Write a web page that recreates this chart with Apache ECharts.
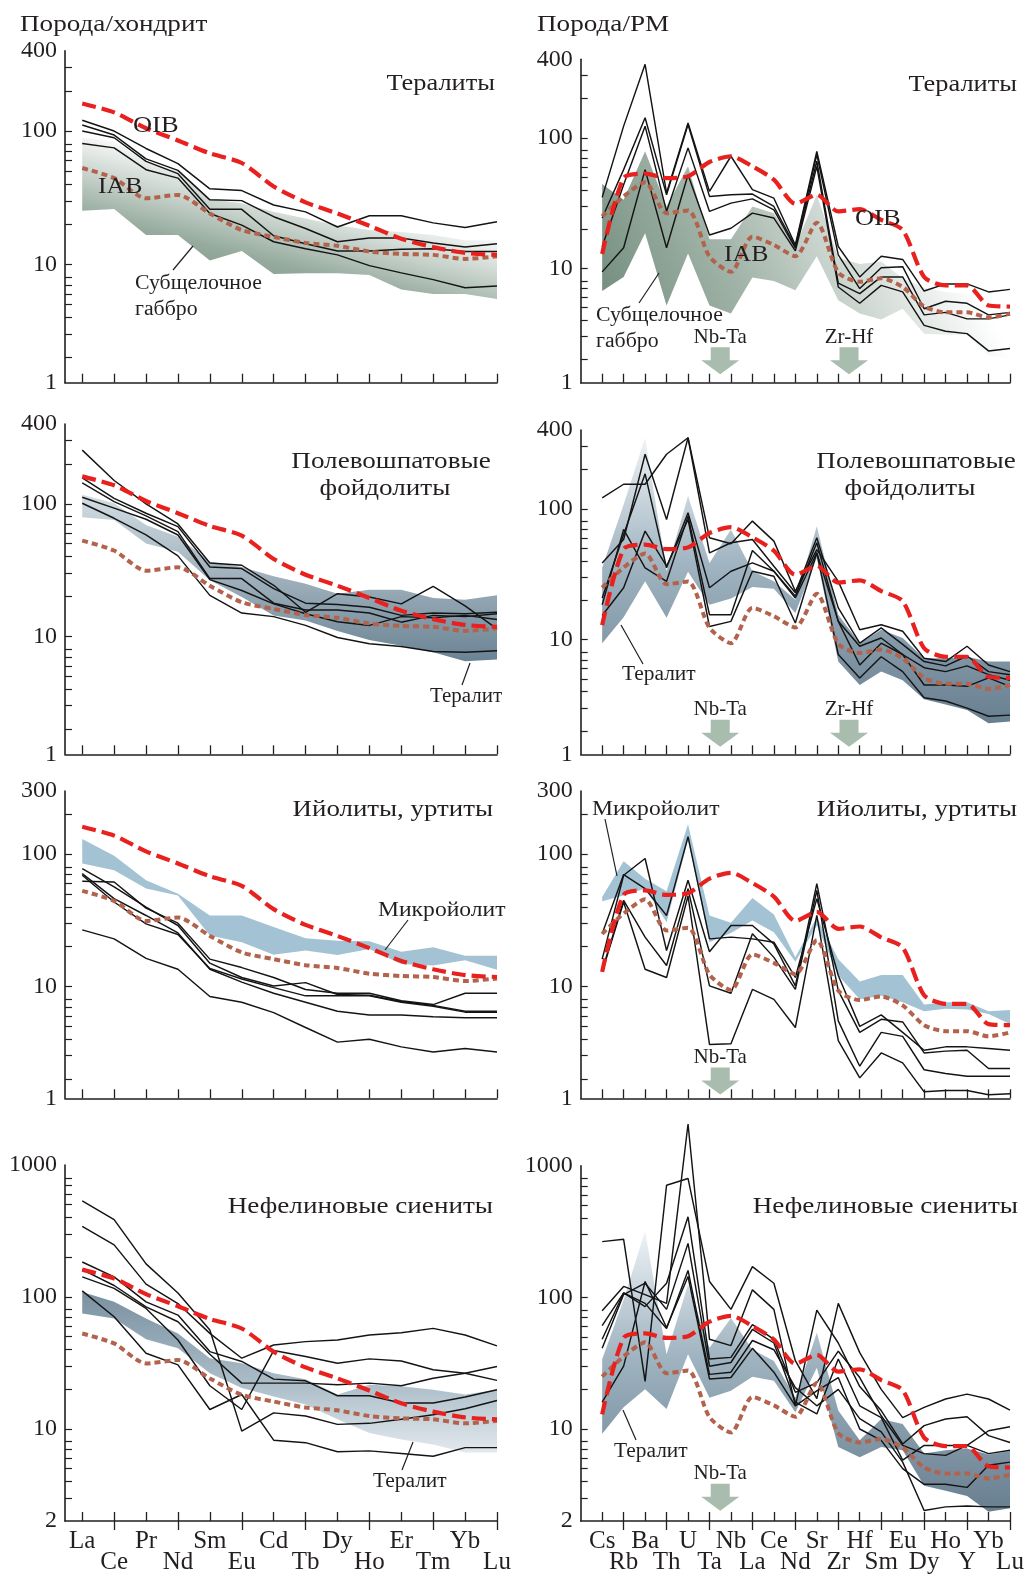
<!DOCTYPE html>
<html>
<head>
<meta charset="utf-8">
<script src="https://cdn.jsdelivr.net/npm/echarts@6/dist/echarts.min.js"></script>
<style>
  html, body { margin: 0; padding: 0; background: #ffffff; }
  #chart { width: 1028px; height: 1575px; }
</style>
</head>
<body>
<div id="chart"></div>
<script>
// ---- element order on the two diagram types ----
const reeElements = ['La', 'Ce', 'Pr', 'Nd', 'Sm', 'Eu', 'Cd', 'Tb', 'Dy', 'Ho', 'Er', 'Tm', 'Yb', 'Lu'];
const traceElements = ['Cs', 'Rb', 'Ba', 'Th', 'U', 'Ta', 'Nb', 'La', 'Ce', 'Nd', 'Sr', 'Zr', 'Hf', 'Sm', 'Eu', 'Dy', 'Ho', 'Y', 'Yb', 'Lu'];

// ---- reference basalts (chondrite- and PM-normalised) ----
const oibRee = [161, 138, 105, 85, 68, 57.6, 38.4, 29.2, 24.1, 19.5, 15.6, 13.5, 12.2, 11.8];
const iabRee = [52.8, 44.4, 31.3, 33.2, 24.1, 18.1, 16.1, 14.5, 13.8, 12.5, 12.0, 11.8, 11.0, 11.5];
const oibTrace = [12.9, 49.2, 53.2, 49.2, 50.7, 65.3, 72.3, 60.5, 47.8, 31.3, 36.6, 27.3, 28.4, 23.5, 19.7, 8.6, 7.4, 7.4, 5.2, 5.1];
const iabTrace = [25, 35.6, 45.6, 26.5, 27.8, 12.3, 9.4, 17.5, 15.1, 12.4, 22.4, 9.3, 7.9, 8.4, 7.2, 5.1, 4.6, 4.6, 4.2, 4.5];

// ---- Тералиты: field of subalkaline gabbro + samples ----
const gabbroReeLow = [25.3, 26.1, 16.6, 16.6, 10.7, 12.6, 8.5, 8.6, 8.6, 8.35, 6.5, 6.0, 6.0, 5.5];
const gabbroReeHigh = [89, 84, 59, 50, 31, 28.7, 24.8, 22.1, 19.7, 18.1, 17.5, 16.6, 15.2, 15.2];
const teraliteRee = [
  [120.4, 100, 74, 57, 36.9, 35.8, 27.9, 24.8, 19.1, 23.2, 23.2, 20.5, 18.9, 20.9],
  [111, 93.3, 61.8, 50.7, 30.5, 30.1, 22.8, 18.6, 14.8, 15.8, 15.8, 14.5, 13.5, 14.3],
  [100, 89.1, 59.3, 47.9, 25.9, 25.9, 16.4, 14.3, 12.6, 12.6, 13.0, 13.1, 12.5, 12.5],
  [80.7, 74.8, 51.3, 44.4, 24.1, 19.7, 14.8, 13.1, 11.8, 9.8, 8.65, 7.7, 6.7, 6.9]
];
const gabbroTraceLow = [6.7, 8.6, 18.6, 5.2, 13.0, 5.2, 4.5, 8.5, 8.0, 6.8, 12.4, 5.7, 4.5, 4.05, 4.9, 3.16, 3.1, 3.07, 2.15, 2.03];
const gabbroTraceHigh = [44.3, 33.6, 78.9, 29.8, 60.5, 16.7, 16.7, 29.8, 26.5, 14.7, 36.6, 12, 10.8, 11.3, 8.4, 7.1, 6.6, 6.4, 5.7, 5.2];
const teraliteTrace = [
  [35.0, 123, 366, 37.8, 130, 38.9, 72.3, 40.1, 34.5, 15.1, 78.9, 14.7, 8.6, 12.4, 11.7, 6.7, 7.6, 7.6, 6.6, 6.9],
  [24.3, 57.1, 142.6, 36.6, 126.6, 35.6, 36.6, 37.1, 29.8, 14.7, 74.5, 12.7, 7.0, 10.1, 10.3, 4.9, 5.6, 5.4, 4.4, 4.6],
  [14.7, 43.7, 123, 27.3, 83.8, 27.3, 31.6, 34.1, 28.1, 14.3, 66.2, 7.7, 6.4, 8.6, 8.6, 4.4, 4.6, 4.1, 4.1, 4.4],
  [9.4, 14.4, 57.1, 14.4, 52.2, 18.0, 20.3, 26.5, 24.3, 13.6, 60.5, 7.2, 5.4, 7.4, 6.6, 3.66, 3.3, 3.16, 2.33, 2.43]
];

// ---- Полевошпатовые фойдолиты: field of teralites + samples ----
const foidTeraliteReeLow = [79.2, 75.6, 50.3, 43.5, 26.5, 19.8, 14.4, 13.2, 11.0, 9.4, 8.5, 7.6, 6.5, 6.7];
const foidTeraliteReeHigh = [117, 101, 69.3, 56.5, 36.5, 33.4, 28.4, 25.0, 21.0, 22.5, 22.5, 19.5, 18.9, 20.4];
const foidoliteRee = [
  [254, 150, 100, 70.5, 35.8, 34.4, 24.3, 15.2, 21.0, 19.8, 17.6, 23.8, 17.0, 11.4],
  [157, 110, 84.9, 67.3, 33.4, 32.5, 22.9, 17.8, 17.4, 16.6, 14.4, 15.0, 14.8, 15.2],
  [143.6, 104, 81.1, 61.6, 27.3, 27.3, 17.8, 15.8, 15.8, 15.0, 12.8, 14.4, 14.1, 14.8],
  [112, 92.7, 76.5, 58.2, 26.8, 22.2, 17.6, 14.8, 12.9, 12.1, 14.1, 13.8, 14.4, 13.4],
  [101, 77.8, 58.2, 40.5, 20.4, 15.0, 14.1, 12.1, 9.8, 8.8, 8.4, 7.7, 7.6, 7.8]
];
const foidTeraliteTraceLow = [9.4, 14.8, 27.9, 14.7, 33, 18.5, 20.6, 25.3, 24.5, 16.0, 42, 6.8, 4.5, 5.7, 4.9, 3.5, 3.2, 2.9, 2.3, 2.37];
const foidTeraliteTraceHigh = [35.4, 108, 349, 33.3, 125, 38.6, 69.5, 33.3, 27.9, 20.2, 73.7, 15.5, 9.4, 11.9, 10.3, 7.2, 7.2, 7.4, 6.8, 6.8];
const foidoliteTrace = [
  [121, 154, 154, 261, 349, 60.0, 54.0, 80.5, 56.6, 23.4, 48.8, 27.9, 11.9, 13.0, 11.6, 7.2, 6.8, 8.9, 6.4, 5.7],
  [38.6, 58.3, 261, 82.9, 349, 46.1, 55.0, 58.3, 36.4, 22.8, 60.0, 17.5, 9.4, 12.3, 9.2, 6.8, 6.3, 7.5, 5.7, 5.4],
  [20.8, 63.6, 185, 35.4, 93.2, 24.9, 33.3, 38.6, 33.3, 21.5, 55.0, 13.8, 8.9, 10.3, 7.7, 6.1, 5.7, 6.3, 5.4, 4.9],
  [18.5, 69.5, 35.4, 27.9, 87.9, 15.5, 15.5, 48.0, 33.3, 20.8, 46.1, 13.8, 6.4, 9.4, 7.7, 4.5, 4.5, 4.4, 5.1, 4.4],
  [15.3, 24.9, 67.5, 36.4, 82.9, 12.6, 13.8, 33.3, 30.5, 13.4, 46.1, 7.7, 5.1, 7.4, 5.7, 3.6, 3.4, 3.0, 2.6, 2.65]
];

// ---- Ийолиты, уртиты: field of microijolite + samples ----
const microReeLow = [84.9, 75.6, 54.9, 48.8, 24.3, 21.6, 17.4, 18.7, 17.3, 19.2, 14.8, 14.4, 15.8, 13.4];
const microReeHigh = [130, 97.1, 63.5, 50.3, 34.4, 34.4, 28.1, 23.2, 22.2, 22.0, 18.3, 19.8, 17.1, 17.1];
const ijoliteRee = [
  [62.4, 61.6, 39.1, 30.1, 16.1, 13.9, 11.7, 9.5, 8.9, 8.9, 7.8, 7.3, 8.9, 8.9],
  [77.8, 56.5, 39.8, 28.9, 15.0, 11.7, 10.1, 10.7, 8.7, 8.6, 7.7, 7.2, 6.5, 6.5],
  [71.3, 46.1, 34.4, 25.4, 13.5, 10.8, 8.9, 7.6, 6.5, 6.1, 6.1, 5.9, 5.8, 5.8],
  [69.3, 43.5, 29.7, 24.7, 13.7, 11.4, 9.8, 8.5, 8.5, 8.5, 7.6, 7.1, 6.4, 6.4],
  [26.8, 22.9, 16.3, 13.5, 8.4, 7.6, 6.35, 4.9, 3.8, 4.0, 3.5, 3.2, 3.4, 3.2]
];
const microTraceLow = [44.0, 48.8, 54.9, 30.6, 128, 21.6, 25.4, 31.5, 25.7, 15.4, 28.9, 12.1, 8.0, 8.5, 7.6, 6.5, 6.8, 6.7, 6.2, 5.2];
const microTraceHigh = [47.4, 88.5, 65.3, 52.4, 168, 34.4, 30.3, 46.6, 35.0, 16.6, 33.4, 16.1, 10.9, 12.2, 12.2, 7.3, 7.6, 7.6, 6.5, 6.65];
const ijoliteTrace = [
  [25.0, 70.1, 54.9, 34.4, 135.5, 22.9, 23.6, 22.9, 21.6, 11.7, 46.1, 12.1, 5.0, 6.1, 4.5, 3.3, 3.5, 3.5, 3.4, 3.3],
  [16.1, 69.3, 92.7, 18.7, 63.5, 18.3, 28.9, 28.9, 21.0, 10.1, 59.8, 9.3, 4.5, 5.65, 5.4, 3.15, 3.25, 3.3, 2.4, 2.4],
  [13.2, 44.7, 23.6, 14.4, 54.9, 10.1, 8.9, 25.0, 16.6, 9.5, 53.3, 5.5, 2.5, 4.5, 4.2, 2.35, 2.2, 2.1, 2.1, 2.1],
  [12.9, 43.5, 13.5, 11.7, 48.3, 3.65, 3.7, 9.5, 8.0, 4.9, 34.4, 3.9, 2.04, 3.15, 2.65, 1.6, 1.64, 1.64, 1.52, 1.55]
];

// ---- Нефелиновые сиениты: field of teralites + samples ----
const syenTeraliteReeLow = [74.9, 68.7, 47.7, 40.8, 26.4, 20.4, 17.6, 15.3, 11.8, 9.3, 8.3, 7.6, 6.6, 6.6];
const syenTeraliteReeHigh = [109, 91.7, 68.7, 52.9, 34.3, 31.4, 26.4, 23.8, 18.2, 21.6, 21.0, 19.8, 18.2, 19.8];
const syeniteRee = [
  [535, 385, 178, 107, 56.1, 9.6, 13.2, 12.5, 10.8, 11.0, 11.8, 12.8, 14.2, 16.4],
  [343, 248, 125, 89.1, 52.9, 34.3, 43.2, 45.8, 47.1, 51.4, 53.5, 57.7, 51.4, 42.5],
  [184, 142, 91.7, 72.8, 38.5, 32.4, 23.8, 23.1, 17.8, 17.8, 15.7, 15.7, 17.4, 19.8],
  [161, 122, 84.1, 64.8, 36.7, 22.2, 22.2, 22.2, 21.6, 22.2, 21.2, 24.2, 26.4, 29.7],
  [142, 116, 81.7, 47.1, 21.2, 14.0, 39.2, 35.3, 31.4, 33.9, 32.7, 28.0, 26.4, 23.3],
  [111, 70.7, 37.4, 30.5, 14.0, 18.2, 8.2, 7.85, 6.7, 6.8, 6.5, 6.2, 7.2, 7.2]
];
const syenTeraliteTraceLow = [9.2, 14.6, 20, 14.2, 37, 17.3, 19.5, 24.9, 23.2, 13.4, 29.2, 7.3, 6.1, 7.3, 6.9, 3.7, 3.4, 3.1, 2.35, 2.5];
const syenTeraliteTraceHigh = [33.8, 96, 319, 36.9, 125, 41.4, 69.8, 40.2, 32.8, 17.3, 53.8, 13.8, 8.2, 11.9, 10.9, 6.5, 6.9, 7.1, 6.4, 6.8];
const syeniteTrace = [
  [265, 276, 23, 710, 800, 132, 81, 171, 128, 33, 17, 90, 38, 20, 12.2, 14.6, 16.9, 18.4, 16.9, 13.9],
  [79, 121, 105, 90, 2075, 48, 43, 114, 81, 15, 80, 45, 21, 13.8, 7.7, 10.6, 11.9, 12.4, 8.9, 7.9],
  [61, 108, 85, 128, 409, 34, 35, 62, 48, 19, 22.5, 39, 24.6, 12.6, 7.5, 6.5, 6.3, 7.5, 6.5, 6.9],
  [41, 105, 128, 81, 257, 30, 32, 57, 45, 16, 13, 34, 15, 12.2, 5.8, 7.5, 7.5, 7.5, 9.7, 10.4],
  [16, 30, 132, 59, 144, 24, 24.6, 41, 27, 15, 19.5, 24.6, 10, 8.2, 5.0, 3.8, 3.8, 3.6, 5.3, 5.6],
  [48, 108, 90, 58, 160, 26, 27, 47, 40, 20.6, 15, 20, 12, 9.5, 5.6, 2.4, 2.56, 2.6, 2.56, 2.56]
];

// ---- y tick labels of each row (the lowest one sits on the axis end) ----
const yTickLabels400 = ['1', '10', '100', '400'];
const yTickLabels300 = ['1', '10', '100', '300'];
const yTickLabels1000 = ['2', '10', '100', '1000'];

// ---- anomaly arrows ----
const anomalyNames = ['Nb-Ta', 'Zr-Hf'];

// ================= drawing =================
const INK = '#231f20';
const SERIF = '"Liberation Serif", "Times New Roman", "DejaVu Serif", serif';
const grad = (x, y, x2, y2, stops) => new echarts.graphic.LinearGradient(x, y, x2, y2,
  stops.map(s => ({ offset: s[0], color: s[1] })));

const fills = {
  greenRee: () => grad(0, 1, 0.1, 0, [[0, '#5f7c6c'], [0.5, '#96ab9e'], [1, '#ffffff']]),
  greenTrace: () => grad(0, 1, 1, 0, [[0, '#6a8676'], [0.35, '#a3b5aa'], [0.8, '#ffffff']]),
  slateUp: () => grad(0, 0, 0, 1, [[0, '#d3dde3'], [1, '#6a8394']]),
  slateDown: () => grad(0, 0, 0, 1, [[0, '#7a91a1'], [0.55, '#a9bbc6'], [1, '#e2e9ee']]),
  slateRise: () => grad(0, 0, 0, 1, [[0, '#eef3f6'], [0.45, '#9fb3c0'], [1, '#687f90']]),
  ice: () => '#a3c3d4'
};

function logTickValues(min, max) {
  const out = [];
  for (let e = -1; e <= 4; e++) {
    for (const m of [1, 2, 3, 4, 5, 6, 7, 8]) {
      const v = +(m * Math.pow(10, e)).toPrecision(6);
      if (v > min * 1.01 && v < max * 0.99) out.push(v);
    }
  }
  return out;
}

const grids = [], xAxes = [], yAxes = [], series = [];

function nameLabel(elements, values, margin) {
  return {
    show: true, customValues: values, margin: margin, color: INK, fontFamily: SERIF, fontSize: 25, lineHeight: 21,
    hideOverlap: false, showMinLabel: true, showMaxLabel: true,
    formatter: v => elements[Math.round(v)]
  };
}

function addPanel(p) {
  const gi = grids.length;
  const elements = p.elements;
  const n = elements.length;
  const idx = elements.map((_, i) => i);
  const even = idx.filter(i => i % 2 === 0), odd = idx.filter(i => i % 2 === 1);
  grids.push({ left: p.box[0], top: p.box[1], width: p.box[2], height: p.box[3] });

  const xi = xAxes.length;
  xAxes.push({
    type: 'value', gridIndex: gi, min: p.xMin, max: n - 1,
    axisLine: { show: true, onZero: false, lineStyle: { color: INK, width: 1.6 } },
    axisTick: { show: true, inside: true, length: 9, customValues: idx, lineStyle: { color: INK, width: 1.3 } },
    axisLabel: p.names ? nameLabel(elements, even, 10) : { show: false },
    splitLine: { show: false }
  });
  if (p.names) {
    // lower row of element names, with ticks crossing the axis below them
    xAxes.push({
      type: 'value', gridIndex: gi, min: p.xMin, max: n - 1, position: 'bottom',
      axisLine: { show: false },
      axisTick: { show: true, inside: false, length: 9, customValues: odd, lineStyle: { color: INK, width: 1.3 } },
      axisLabel: nameLabel(elements, odd, 31),
      splitLine: { show: false }
    });
  }
  const yVals = [p.yMin, 10, 100, p.yMax];
  yAxes.push({
    type: 'log', logBase: 10, gridIndex: gi, min: p.yMin, max: p.yMax,
    axisLine: { show: true, onZero: false, lineStyle: { color: INK, width: 1.6 } },
    axisTick: { show: true, inside: true, length: 7, customValues: logTickValues(p.yMin, p.yMax), lineStyle: { color: INK, width: 1.2 } },
    axisLabel: {
      show: true, customValues: yVals, margin: 8, color: INK, fontFamily: SERIF, fontSize: 24,
      hideOverlap: false, showMinLabel: true, showMaxLabel: true,
      formatter: v => {
        let best = 0, bd = Infinity;
        yVals.forEach((t, k) => { const d = Math.abs(Math.log(v / t)); if (d < bd) { bd = d; best = k; } });
        return p.yLabels[best];
      }
    },
    splitLine: { show: false }
  });

  const low = p.bandLow, high = p.bandHigh, fill = p.bandFill;
  series.push({
    type: 'custom', xAxisIndex: xi, yAxisIndex: gi, z: 1, silent: true,
    data: [[0, 10]],
    renderItem: (params, api) => {
      const pts = [];
      for (let i = 0; i < high.length; i++) pts.push(api.coord([i, high[i]]));
      for (let i = low.length - 1; i >= 0; i--) pts.push(api.coord([i, low[i]]));
      return { type: 'polygon', shape: { points: pts }, style: { fill: fill(), stroke: null } };
    }
  });
  p.samples.forEach(vals => series.push({
    type: 'line', xAxisIndex: xi, yAxisIndex: gi, z: 2, silent: true, clip: false,
    symbol: 'none', data: vals.map((v, i) => [i, v]),
    lineStyle: { color: '#141414', width: 1.45 }
  }));
  series.push({
    type: 'line', xAxisIndex: xi, yAxisIndex: gi, z: 3, silent: true, symbol: 'none', smooth: 0.25,
    data: p.iab.map((v, i) => [i, v]),
    lineStyle: { color: '#b3624c', width: 4, type: [6, 4] }
  });
  series.push({
    type: 'line', xAxisIndex: xi, yAxisIndex: gi, z: 4, silent: true, symbol: 'none', smooth: 0.25,
    data: p.oib.map((v, i) => [i, v]),
    lineStyle: { color: '#e8211f', width: 4.2, type: [14, 6] }
  });
  if (p.arrows) {
    const arrows = p.arrows;
    series.push({
      type: 'custom', xAxisIndex: xi, yAxisIndex: gi, z: 5, silent: true,
      data: arrows.map(a => [a[0], a[1]]),
      renderItem: (params, api) => {
        const c = api.coord([api.value(0), api.value(1)]);
        const x = c[0], y = c[1];
        return {
          type: 'group', children: [
            { type: 'polygon', shape: { points: [[x - 9.5, y], [x + 9.5, y], [x + 9.5, y + 13], [x + 19, y + 13], [x, y + 27], [x - 19, y + 13], [x - 9.5, y + 13]] },
              style: { fill: '#a8bdae' } },
            { type: 'text', x: x, y: y - 10, style: { text: arrows[params.dataIndex][2], fontFamily: SERIF, fontSize: 21, fill: INK, align: 'center', verticalAlign: 'middle' } }
          ]
        };
      }
    });
  }
}

const L = { x: 65, w: 432, xMin: -0.54 };
const R = { x: 580.7, w: 429.3, xMin: -1 };

addPanel({ box: [L.x, 50.7, L.w, 332], xMin: L.xMin, elements: reeElements, yMin: 1.3, yMax: 400, yLabels: yTickLabels400,
  bandLow: gabbroReeLow, bandHigh: gabbroReeHigh, bandFill: fills.greenRee, samples: teraliteRee, oib: oibRee, iab: iabRee });
addPanel({ box: [R.x, 59.3, R.w, 323.4], xMin: R.xMin, elements: traceElements, yMin: 1.33, yMax: 400, yLabels: yTickLabels400,
  bandLow: gabbroTraceLow, bandHigh: gabbroTraceHigh, bandFill: fills.greenTrace, samples: teraliteTrace, oib: oibTrace, iab: iabTrace,
  arrows: [[5.5, 2.49, anomalyNames[0]], [11.5, 2.49, anomalyNames[1]]] });
addPanel({ box: [L.x, 424, L.w, 330.3], xMin: L.xMin, elements: reeElements, yMin: 1.29, yMax: 400, yLabels: yTickLabels400,
  bandLow: foidTeraliteReeLow, bandHigh: foidTeraliteReeHigh, bandFill: fills.slateUp, samples: foidoliteRee, oib: oibRee, iab: iabRee });
addPanel({ box: [R.x, 430, R.w, 324.3], xMin: R.xMin, elements: traceElements, yMin: 1.33, yMax: 400, yLabels: yTickLabels400,
  bandLow: foidTeraliteTraceLow, bandHigh: foidTeraliteTraceHigh, bandFill: fills.slateRise, samples: foidoliteTrace, oib: oibTrace, iab: iabTrace,
  arrows: [[5.5, 2.44, anomalyNames[0]], [11.5, 2.44, anomalyNames[1]]] });
addPanel({ box: [L.x, 791, L.w, 307.3], xMin: L.xMin, elements: reeElements, yMin: 1.43, yMax: 300, yLabels: yTickLabels300,
  bandLow: microReeLow, bandHigh: microReeHigh, bandFill: fills.ice, samples: ijoliteRee, oib: oibRee, iab: iabRee });
addPanel({ box: [R.x, 791, R.w, 307.3], xMin: R.xMin, elements: traceElements, yMin: 1.43, yMax: 300, yLabels: yTickLabels300,
  bandLow: microTraceLow, bandHigh: microTraceHigh, bandFill: fills.ice, samples: ijoliteTrace, oib: oibTrace, iab: iabTrace,
  arrows: [[5.5, 2.44, anomalyNames[0]]] });
addPanel({ box: [L.x, 1165, L.w, 356], xMin: L.xMin, elements: reeElements, yMin: 2, yMax: 1000, yLabels: yTickLabels1000, names: true,
  bandLow: syenTeraliteReeLow, bandHigh: syenTeraliteReeHigh, bandFill: fills.slateDown, samples: syeniteRee, oib: oibRee, iab: iabRee });
addPanel({ box: [R.x, 1165.7, R.w, 355.3], xMin: R.xMin, elements: traceElements, yMin: 2, yMax: 1000, yLabels: yTickLabels1000, names: true,
  bandLow: syenTeraliteTraceLow, bandHigh: syenTeraliteTraceHigh, bandFill: fills.slateRise, samples: syeniteTrace, oib: oibTrace, iab: iabTrace,
  arrows: [[5.5, 3.84, anomalyNames[0]]] });

// ---- captions and leader lines: [text, x, y, align, size, horizontal stretch] ----
const captions = [
  ['Порода/хондрит', 20, 25, 'left', 23, 1.18], ['Порода/РМ', 537, 25, 'left', 23, 1.18],
  ['Тералиты', 495, 84, 'right', 24, 1.1], ['Тералиты', 1017, 85, 'right', 24, 1.1],
  ['OIB', 133, 126, 'left', 23, 1.15], ['IAB', 98, 187, 'left', 23, 1.12],
  ['Субщелочное', 135, 284, 'left', 20, 1.09], ['габбро', 135, 310, 'left', 20, 1.09],
  ['OIB', 855, 219, 'left', 23, 1.15], ['IAB', 724, 255, 'left', 23, 1.12],
  ['Субщелочное', 596, 316, 'left', 20, 1.09], ['габбро', 596, 342, 'left', 20, 1.09],
  ['Полевошпатовые', 391, 462, 'center', 24, 1.13], ['фойдолиты', 385, 489, 'center', 24, 1.13],
  ['Тералит', 430, 697, 'left', 20, 1.05],
  ['Полевошпатовые', 916, 462, 'center', 24, 1.13], ['фойдолиты', 910, 489, 'center', 24, 1.13],
  ['Тералит', 622, 675, 'left', 20, 1.07],
  ['Ийолиты, уртиты', 493, 810, 'right', 24, 1.12], ['Микройолит', 378, 911, 'left', 20, 1.18],
  ['Ийолиты, уртиты', 1017, 810, 'right', 24, 1.12], ['Микройолит', 592, 810, 'left', 20, 1.18],
  ['Нефелиновые сиениты', 493, 1207, 'right', 24, 1.13], ['Тералит', 373, 1482, 'left', 20, 1.07],
  ['Нефелиновые сиениты', 1018, 1207, 'right', 24, 1.13], ['Тералит', 614, 1452, 'left', 20, 1.07]
];
const leaders = [
  [173, 270, 193, 246], [639, 303, 659, 273], [462, 685, 470, 663], [643, 664, 621, 625],
  [385, 950, 408, 920], [605, 819, 617, 876], [402, 1470, 413, 1442], [636, 1440, 623, 1410]
];
const graphic = captions.map(c => ({
  type: 'text', x: c[1], y: c[2], scaleX: c[5], z: 10, silent: true,
  style: { text: c[0], fontFamily: SERIF, fontSize: c[4], fill: INK, align: c[3], verticalAlign: 'middle' }
})).concat(leaders.map(l => ({
  type: 'line', z: 10, silent: true, shape: { x1: l[0], y1: l[1], x2: l[2], y2: l[3] },
  style: { stroke: INK, lineWidth: 1.2 }
})));

const chart = echarts.init(document.getElementById('chart'));
chart.setOption({
  animation: false,
  backgroundColor: '#ffffff',
  grid: grids, xAxis: xAxes, yAxis: yAxes, series: series, graphic: graphic
});
</script>
</body>
</html>
